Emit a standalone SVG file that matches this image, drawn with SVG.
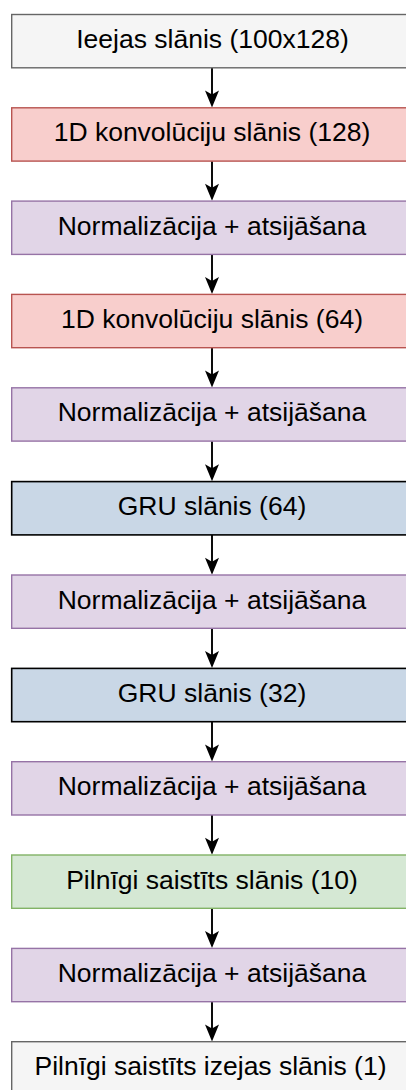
<svg xmlns="http://www.w3.org/2000/svg" width="406" height="1090" viewBox="0 0 406 1090">
<style>
rect{stroke-width:1.4}
.t{font-family:"Liberation Sans",Arial,sans-serif;font-size:26.5px;fill:#000;text-anchor:middle}
.gray{fill:#f5f5f5;stroke:#666666}
.red{fill:#f8cecc;stroke:#b85450}
.pur{fill:#e1d5e7;stroke:#9673a6}
.blue{fill:#c9d7e6;stroke:#000000;stroke-width:1.6}
.green{fill:#d5e8d4;stroke:#82b366}
.c{stroke:#000;stroke-width:1.9;fill:none}
.ah{fill:#000}
</style>
<g id="connectors">
<path class="c" d="M212,68 V100"/>
<path class="c" d="M212,161.2 V193"/>
<path class="c" d="M212,254.5 V286"/>
<path class="c" d="M212,347.8 V380"/>
<path class="c" d="M212,441.2 V474"/>
<path class="c" d="M212,535 V567"/>
<path class="c" d="M212,628.3 V660"/>
<path class="c" d="M212,721.7 V754"/>
<path class="c" d="M212,815 V847"/>
<path class="c" d="M212,908.3 V940"/>
<path class="c" d="M212,1001.7 V1034"/>
<path class="ah" d="M212,107.5 L205,90.5 L212,94.5 L219,90.5 Z"/>
<path class="ah" d="M212,200.8 L205,183.8 L212,187.8 L219,183.8 Z"/>
<path class="ah" d="M212,294.1 L205,277.1 L212,281.1 L219,277.1 Z"/>
<path class="ah" d="M212,387.5 L205,370.5 L212,374.5 L219,370.5 Z"/>
<path class="ah" d="M212,481.3 L205,464.3 L212,468.3 L219,464.3 Z"/>
<path class="ah" d="M212,574.8 L205,557.8 L212,561.8 L219,557.8 Z"/>
<path class="ah" d="M212,668.1 L205,651.1 L212,655.1 L219,651.1 Z"/>
<path class="ah" d="M212,761.5 L205,744.5 L212,748.5 L219,744.5 Z"/>
<path class="ah" d="M212,854.8 L205,837.8 L212,841.8 L219,837.8 Z"/>
<path class="ah" d="M212,948.1 L205,931.1 L212,935.1 L219,931.1 Z"/>
<path class="ah" d="M212,1041.5 L205,1024.5 L212,1028.5 L219,1024.5 Z"/>
</g>
<g id="n0"><rect class="gray" x="11.7" y="14.5" width="400" height="53.3"/><text class="t" x="212.5" y="48">Ieejas slānis (100x128)</text></g>
<g id="n1"><rect class="red" x="11.7" y="107.8" width="400" height="53.3"/><text class="t" x="212" y="141.3">1D konvolūciju slānis (128)</text></g>
<g id="n2"><rect class="pur" x="11.7" y="201.1" width="400" height="53.3"/><text class="t" x="212" y="234.6">Normalizācija + atsijāšana</text></g>
<g id="n3"><rect class="red" x="11.7" y="294.4" width="400" height="53.3"/><text class="t" x="212" y="327.9">1D konvolūciju slānis (64)</text></g>
<g id="n4"><rect class="pur" x="11.7" y="387.8" width="400" height="53.3"/><text class="t" x="212" y="421.3">Normalizācija + atsijāšana</text></g>
<g id="n5"><rect class="blue" x="11.7" y="481.6" width="400" height="53.3"/><text class="t" x="212" y="515.1">GRU slānis (64)</text></g>
<g id="n6"><rect class="pur" x="11.7" y="575" width="400" height="53.3"/><text class="t" x="212" y="608.5">Normalizācija + atsijāšana</text></g>
<g id="n7"><rect class="blue" x="11.7" y="668.4" width="400" height="53.3"/><text class="t" x="212" y="701.9">GRU slānis (32)</text></g>
<g id="n8"><rect class="pur" x="11.7" y="761.7" width="400" height="53.3"/><text class="t" x="212" y="795.2">Normalizācija + atsijāšana</text></g>
<g id="n9"><rect class="green" x="11.7" y="855" width="400" height="53.3"/><text class="t" x="212" y="888.5">Pilnīgi saistīts slānis (10)</text></g>
<g id="n10"><rect class="pur" x="11.7" y="948.4" width="400" height="53.3"/><text class="t" x="212" y="981.9">Normalizācija + atsijāšana</text></g>
<g id="n11"><rect class="gray" x="11.7" y="1041.7" width="400" height="53.3"/><text class="t" x="210.5" y="1074.5">Pilnīgi saistīts izejas slānis (1)</text></g>
</svg>
